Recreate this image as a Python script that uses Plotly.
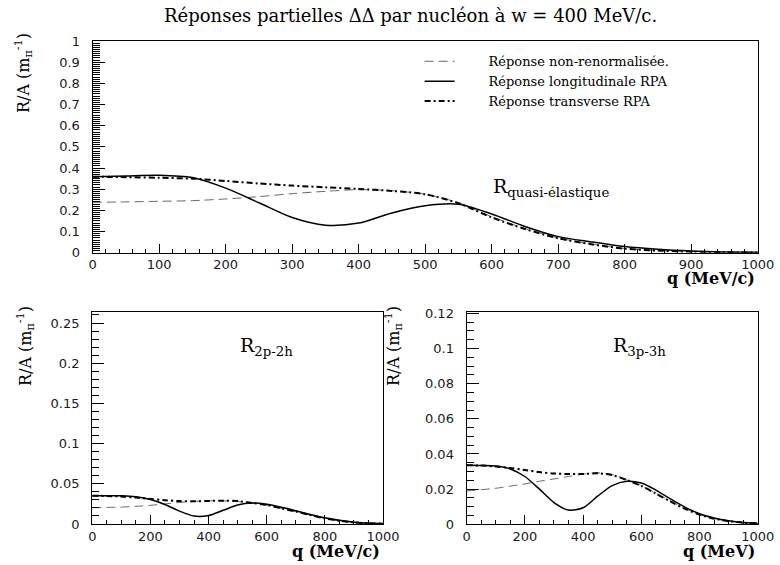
import plotly.graph_objects as go

# q grid (MeV/c) shared by all curves
q = [0, 50, 100, 150, 200, 250, 300, 350, 400, 450, 500,
     550, 600, 650, 700, 750, 800, 850, 900, 950, 1000]

# quasi-elastic response
qe_free = [0.238, 0.240, 0.243, 0.246, 0.254, 0.265, 0.279, 0.290, 0.298, 0.293, 0.276,
           0.236, 0.170, 0.114, 0.070, 0.041, 0.020, 0.010, 0.005, 0.002, 0.001]
qe_long = [0.359, 0.363, 0.366, 0.355, 0.305, 0.236, 0.166, 0.130, 0.140, 0.188, 0.222,
           0.229, 0.183, 0.124, 0.076, 0.051, 0.029, 0.016, 0.008, 0.004, 0.002]
qe_trans = [0.359, 0.357, 0.354, 0.350, 0.339, 0.327, 0.317, 0.309, 0.301, 0.292, 0.276,
            0.234, 0.167, 0.112, 0.068, 0.040, 0.019, 0.010, 0.005, 0.002, 0.001]

# 2p-2h response
r2_free = [0.0203, 0.0206, 0.0210, 0.0220, 0.0232, 0.0250, 0.0268, 0.0280, 0.0288, 0.0288, 0.0280,
           0.0258, 0.0234, 0.0195, 0.0154, 0.0110, 0.0070, 0.0040, 0.0020, 0.0010, 0.0005]
r2_long = [0.0352, 0.0352, 0.0350, 0.0338, 0.0305, 0.0243, 0.0160, 0.0098, 0.0105, 0.0170, 0.0235,
           0.0260, 0.0246, 0.0208, 0.0165, 0.0118, 0.0077, 0.0045, 0.0022, 0.0010, 0.0005]
r2_trans = [0.0352, 0.0348, 0.0342, 0.0328, 0.0312, 0.0296, 0.0285, 0.0282, 0.0287, 0.0290, 0.0285,
            0.0262, 0.0236, 0.0195, 0.0155, 0.0110, 0.0070, 0.0040, 0.0020, 0.0010, 0.0005]

# 3p-3h response
r3_free = [0.0190, 0.0197, 0.0205, 0.0217, 0.0230, 0.0245, 0.0258, 0.0272, 0.0285, 0.0293, 0.0283,
           0.0254, 0.0220, 0.0177, 0.0132, 0.0090, 0.0056, 0.0033, 0.0018, 0.0009, 0.0005]
r3_long = [0.0336, 0.0335, 0.0332, 0.0315, 0.0272, 0.0200, 0.0124, 0.0081, 0.0094, 0.0160, 0.0220,
           0.0245, 0.0235, 0.0195, 0.0145, 0.0098, 0.0060, 0.0036, 0.0020, 0.0010, 0.0006]
r3_trans = [0.0336, 0.0334, 0.0329, 0.0320, 0.0309, 0.0297, 0.0289, 0.0286, 0.0286, 0.0290, 0.0280,
            0.0252, 0.0218, 0.0175, 0.0130, 0.0088, 0.0055, 0.0032, 0.0018, 0.0009, 0.0005]

names = ["Réponse non-renormalisée.", "Réponse longitudinale RPA", "Réponse transverse RPA"]

SERIF = "DejaVu Serif"
SANS = "DejaVu Sans"

styles = [
    dict(color="#666666", width=1, dash="9px,5px"),
    dict(color="black", width=1.5, dash="solid"),
    dict(color="black", width=2, dash="6px,3px,2px,3px"),
]

fig = go.Figure()

panels = [("x", "y", [qe_free, qe_long, qe_trans]),
          ("x2", "y2", [r2_free, r2_long, r2_trans]),
          ("x3", "y3", [r3_free, r3_long, r3_trans])]

for i, (xa, ya, series) in enumerate(panels):
    for name, vals, st in zip(names, series, styles):
        # nbsp padding mimics the wider gap between sample and label
        fig.add_trace(go.Scatter(x=q, y=vals, mode="lines", name="\u00a0" * 7 + name,
                                 line=dict(shape="spline", smoothing=0.8, **st),
                                 xaxis=xa, yaxis=ya, showlegend=(i == 0)))

tickfont = dict(family=SANS, size=13, color="#1a1a1a")


def xax(domain, anchor, dtick, minor):
    return dict(domain=domain, anchor=anchor, range=[0, 1000], dtick=dtick,
                ticks="inside", ticklen=9, tickwidth=1, tickcolor="black",
                minor=dict(ticks="inside", dtick=minor, ticklen=4, tickwidth=1, tickcolor="black"),
                showline=True, linecolor="black", linewidth=1.3, mirror=True,
                showgrid=False, zeroline=False, tickfont=tickfont, ticklabelstandoff=0)


def yax(domain, anchor, rng, dtick, minor):
    return dict(domain=domain, anchor=anchor, range=rng, dtick=dtick,
                ticks="inside", ticklen=12, tickwidth=1, tickcolor="black",
                minor=dict(ticks="inside", dtick=minor, ticklen=7, tickwidth=1, tickcolor="black"),
                showline=True, linecolor="black", linewidth=1.3, mirror=True,
                showgrid=False, zeroline=False, tickfont=tickfont, ticklabelstandoff=9)


fig.update_layout(
    width=780, height=565,
    margin=dict(l=0, r=0, t=0, b=0, autoexpand=False),
    paper_bgcolor="white", plot_bgcolor="white",
    xaxis=xax([0.1188, 0.9714], "y", 100, 20),
    yaxis=yax([0.5527, 0.9274], "x", [0, 1], 0.1, 0.01),
    xaxis2=xax([0.1183, 0.4910], "y2", 200, 50),
    yaxis2=yax([0.0726, 0.4478], "x2", [0, 0.2637], 0.05, 0.01),
    xaxis3=xax([0.5983, 0.9714], "y3", 200, 50),
    yaxis3=yax([0.0720, 0.4473], "x3", [0, 0.1206], 0.02, 0.005),
    legend=dict(x=0.538, y=0.918, xanchor="left", yanchor="top",
                bgcolor="rgba(0,0,0,0)", font=dict(family=SERIF, size=13, color="black")),
    showlegend=True,
)

ytitle = "R/A (m<sub>π</sub><sup>-1</sup>)"
ann = [
    dict(text="Réponses partielles ΔΔ par nucléon à w = 400 MeV/c.", x=410, y=15,
         font=dict(family=SERIF, size=18)),
    dict(text=ytitle, x=23, y=73, textangle=-90, font=dict(family=SERIF, size=16)),
    dict(text=ytitle, x=25, y=346, textangle=-90, font=dict(family=SERIF, size=16)),
    dict(text=ytitle, x=393, y=346, textangle=-90, font=dict(family=SERIF, size=16)),
    dict(text="<b>q (MeV/c)</b>", x=757, y=279, xanchor="right", font=dict(family=SERIF, size=16)),
    dict(text="<b>q (MeV/c)</b>", x=382, y=551, xanchor="right", font=dict(family=SERIF, size=16)),
    dict(text="<b>q (MeV)</b>", x=757, y=551, xanchor="right", font=dict(family=SERIF, size=16)),
    dict(text="R<sub>quasi-élastique</sub>", x=491, y=188, xanchor="left", font=dict(family=SERIF, size=19)),
    dict(text="R<sub>2p-2h</sub>", x=238, y=346, xanchor="left", font=dict(family=SERIF, size=19)),
    dict(text="R<sub>3p-3h</sub>", x=611, y=346, xanchor="left", font=dict(family=SERIF, size=19)),
]
for a in ann:
    a.setdefault("xanchor", "center")
    a["font"].setdefault("color", "black")
    fig.add_annotation(xref="paper", yref="paper", x=a["x"] / 780, y=1 - a["y"] / 565,
                       text=a["text"], showarrow=False, xanchor=a["xanchor"], yanchor="middle",
                       textangle=a.get("textangle", 0), font=a["font"])

fig.write_html("out.html", config={"displayModeBar": False},
               post_script="document.body.style.margin = '0';")
